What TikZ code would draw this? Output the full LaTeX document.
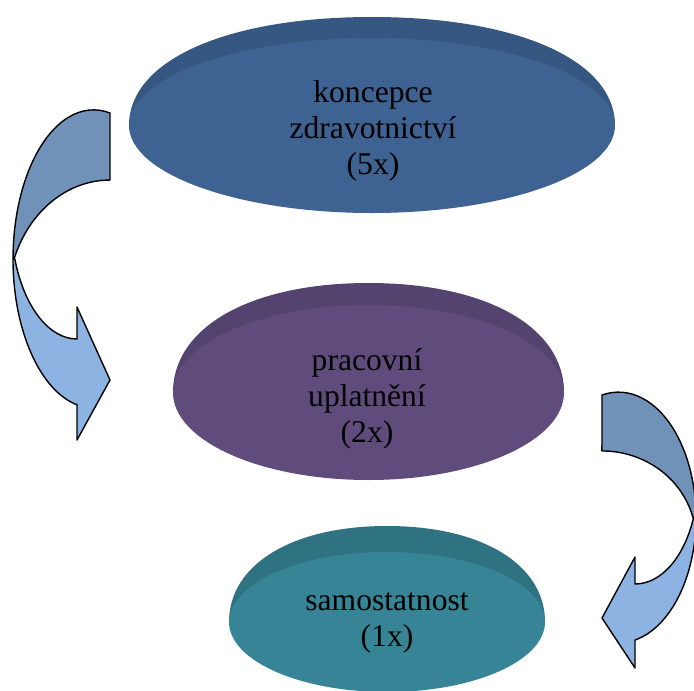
\documentclass[tikz,border=0pt]{standalone}
\usepackage{fontspec}
\setmainfont{Liberation Serif}
\definecolor{zdblue}     {HTML}{3E6291}
\definecolor{zdbluerim}  {HTML}{365781}
\definecolor{zdplum}     {HTML}{604C7C}
\definecolor{zdplumrim}  {HTML}{55436F}
\definecolor{zdteal}     {HTML}{378496}
\definecolor{zdtealrim}  {HTML}{2F7282}
\definecolor{zdback}     {HTML}{7092B8}
\definecolor{zdfront}    {HTML}{8DB3E2}
\tikzset{
  zdlabel/.style={align=center, inner sep=0pt, text=black,
                  font=\fontsize{31.6pt}{36pt}\selectfont},
  zdarrow/.style={draw=black, line width=1.4pt, line join=round},
}
\begin{document}
\begin{tikzpicture}[x=1pt,y=-1pt]
  \useasboundingbox (0,0) rectangle (694,691);
  % discs
  \fill[zdbluerim] (129,125.5) .. controls (129,60.4) and (226.2,17) .. (372,17)
    .. controls (517.8,17) and (615,60.4) .. (615,125.5) -- cycle;
  \fill[zdblue] (372,125.5) ellipse[x radius=243, y radius=87.5];
  \fill[zdplumrim] (173,392.5) .. controls (173,326.8) and (251.2,283) .. (368.5,283)
    .. controls (485.8,283) and (564,326.8) .. (564,392.5) -- cycle;
  \fill[zdplum] (368.5,392.5) ellipse[x radius=195.5, y radius=87.5];
  \fill[zdtealrim] (229,622) .. controls (229,564.4) and (292.2,526) .. (387,526)
    .. controls (481.8,526) and (545,564.4) .. (545,622) -- cycle;
  \fill[zdteal] (387,622) ellipse[x radius=158, y radius=70];
  % curved arrows
  \filldraw[zdarrow, fill=zdback] (110,113)
    arc[start angle=-78.2, end angle=-180, x radius=80.5, y radius=149] -- (14.1,259)
    arc[start angle=-160, end angle=-90, x radius=102, y radius=120] -- cycle;
  \filldraw[zdarrow, fill=zdfront] (13,259)
    arc[start angle=180, end angle=101.8, x radius=80.5, y radius=149]
    -- (77,440) -- (110,380) -- (77,307) -- (77,339)
    arc[start angle=90, end angle=160.9, x radius=65.8, y radius=119] -- cycle;
  \filldraw[zdarrow, fill=zdback] (602,395)
    arc[start angle=-102.3, end angle=0, x radius=77.5, y radius=125.4] -- (692.9,517.5)
    arc[start angle=-14.6, end angle=-90, x radius=94, y radius=89] -- cycle;
  \filldraw[zdarrow, fill=zdfront] (696,517.5)
    arc[start angle=0, end angle=77.7, x radius=77.5, y radius=125.4]
    -- (635,668) -- (602,618) -- (635,557) -- (635,584)
    arc[start angle=90, end angle=21.1, x radius=62.8, y radius=104] -- cycle;
  % labels
  \node[zdlabel] (koncepce) at (373,131) {koncepce\\zdravotnictví\\(5x)};
  \node[zdlabel] (pracovni) at (367,398.6) {pracovní\\uplatnění\\(2x)};
  \node[zdlabel] (samostatnost) at (387,623) {samostatnost\\(1x)};
\end{tikzpicture}
\end{document}
